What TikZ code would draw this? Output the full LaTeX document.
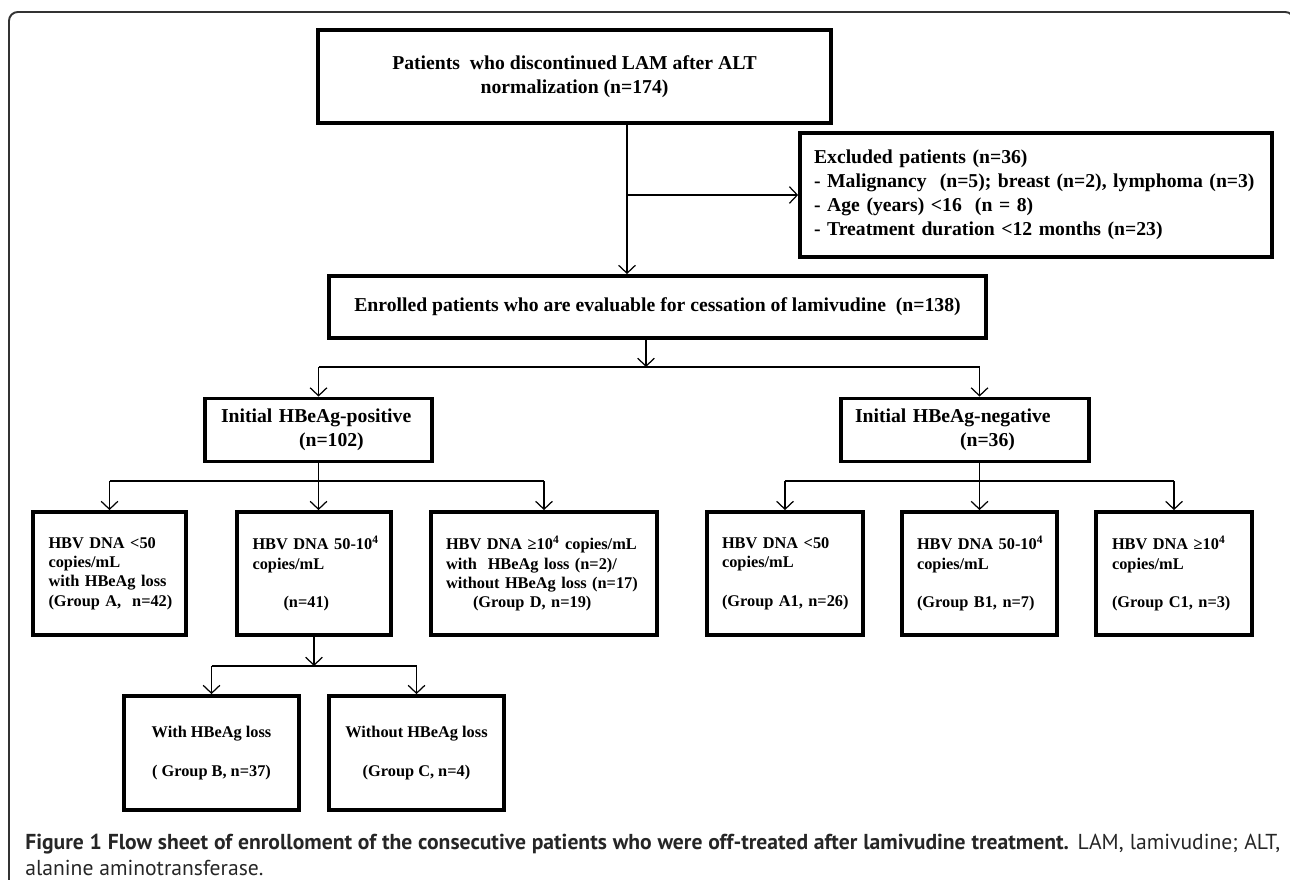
\documentclass[tikz,border=0pt]{standalone}
\usepackage{fontspec}
\setmainfont{Liberation Serif}
\newfontfamily\capfont{PT Sans}
\usetikzlibrary{arrows.meta}

\tikzset{
  box/.style={draw, line width=2.2pt, inner sep=0pt, font=\bfseries\fontsize{11.2}{13.6}\selectfont},
  subbox/.style={box, font=\bfseries\fontsize{9.3}{11}\selectfont},
  arr/.style={-{Straight Barb[length=4.5pt,width=9.5pt]}, line width=0.7pt},
  link/.style={line width=0.7pt},
}

\begin{document}
\begin{tikzpicture}[x=0.02cm, y=-0.02cm]
  \useasboundingbox (0,0) rectangle (1290,879);
  % outer frame
  \draw[line width=1.1pt, draw=black!80, rounded corners=5pt] (9,900) -- (9,12) -- (1294,12) -- (1294,60);

  % screening
  \node[box, minimum width=10.26cm, minimum height=1.86cm, align=center] (start) at (574.5,76.5)
    {Patients~ who discontinued LAM after ALT\\normalization (n=174)};
  \node[box, minimum width=9.44cm, minimum height=2.48cm, text width=8.88cm, align=left] (excl) at (1036,195)
    {Excluded patients (n=36)\\- Malignancy~ (n=5); breast (n=2), lymphoma (n=3)\\- Age (years) <16~ (n = 8)\\- Treatment duration <12 months (n=23)};
  \node[box, minimum width=13.14cm, minimum height=1.24cm] (enrol) at (657.5,307)
    {Enrolled patients who are evaluable for cessation of lamivudine~ (n=138)};

  % HBeAg status
  \node[box, minimum width=4.54cm, minimum height=1.26cm, text width=3.9cm, align=left] (pos) at (318.5,430)
    {Initial HBeAg-positive\\\hspace*{1.56cm}(n=102)};
  \node[box, minimum width=4.96cm, minimum height=1.26cm, text width=4.4cm, align=left] (neg) at (965,430)
    {Initial HBeAg-negative\\\hspace*{2.1cm}(n=36)};

  % HBV DNA groups
  \node[subbox, minimum width=3.06cm, minimum height=2.46cm, text width=2.44cm, align=left] (grpA) at (109.5,573.5)
    {\mbox{HBV DNA <50}\\copies/mL\\\mbox{with HBeAg loss}\\\mbox{(Group A,~ n=42)}};
  \node[subbox, minimum width=3.08cm, minimum height=2.46cm, text width=2.46cm, align=left] (grpBC) at (314,573.5)
    {\mbox{HBV DNA 50-10\textsuperscript{4}}\\copies/mL\\[11pt]\hspace*{0.62cm}(n=41)};
  \node[subbox, minimum width=4.52cm, minimum height=2.46cm, text width=3.92cm, align=left] (grpD) at (544,573.5)
    {\mbox{HBV DNA ≥10\textsuperscript{4} copies/mL}\\\mbox{with~ HBeAg loss (n=2)/}\\\mbox{without HBeAg loss (n=17)}\\\hspace*{0.54cm}(Group D, n=19)};
  \node[subbox, minimum width=3.12cm, minimum height=2.46cm, text width=2.52cm, align=left] (grpA1) at (785,573.5)
    {\mbox{HBV DNA <50}\\copies/mL\\[11pt]\mbox{(Group A1, n=26)}};
  \node[subbox, minimum width=3.10cm, minimum height=2.46cm, text width=2.5cm, align=left] (grpB1) at (979.5,573.5)
    {\mbox{HBV DNA 50-10\textsuperscript{4}}\\copies/mL\\[11pt]\mbox{(Group B1, n=7)}};
  \node[subbox, minimum width=3.12cm, minimum height=2.46cm, text width=2.48cm, align=left] (grpC1) at (1174,573.5)
    {\mbox{HBV DNA ≥10\textsuperscript{4}}\\copies/mL\\[11pt]\mbox{(Group C1, n=3)}};

  % split of group 50-10^4
  \node[subbox, minimum width=3.5cm, minimum height=2.28cm, align=center] (grpB) at (211.5,753)
    {With HBeAg loss\\[11pt]( Group B, n=37)};
  \node[subbox, minimum width=3.5cm, minimum height=2.28cm, align=center] (grpC) at (416.5,753)
    {Without HBeAg loss\\[11pt](Group C, n=4)};

  % connectors
  \coordinate (trunk) at (627,195);
  \coordinate (split) at (646,367);
  \coordinate (lvl2) at (0,481);
  \coordinate (lvl3) at (0,666);
  \draw[arr] (trunk |- start.south) -- (trunk |- enrol.north);
  \draw[arr] (trunk) -- (trunk -| excl.west);
  \draw[arr] (split |- enrol.south) -- (split);
  \draw[link] (pos.north |- split) -- (grpB1.north |- split);
  \draw[arr] (pos.north |- split) -- (pos.north);
  \draw[arr] (grpB1.north |- split) -- (grpB1.north |- neg.north);

  \draw[link] (grpA.north |- lvl2) -- (grpD.north |- lvl2);
  \draw[arr] (grpA.north |- lvl2) -- (grpA.north);
  \draw[arr] (pos.south) -- (pos.south |- grpBC.north);
  \draw[arr] (grpD.north |- lvl2) -- (grpD.north);

  \draw[link] (grpA1.north |- lvl2) -- (grpC1.north |- lvl2);
  \draw[arr] (grpA1.north |- lvl2) -- (grpA1.north);
  \draw[arr] (grpB1.north |- neg.south) -- (grpB1.north);
  \draw[arr] (grpC1.north |- lvl2) -- (grpC1.north);

  \draw[arr] (grpBC.south) -- (grpBC.south |- lvl3);
  \draw[link] (grpB.north |- lvl3) -- (grpC.north |- lvl3);
  \draw[arr] (grpB.north |- lvl3) -- (grpB.north);
  \draw[arr] (grpC.north |- lvl3) -- (grpC.north);

  % caption
  \node[anchor=west, inner sep=0pt, font=\capfont\fontsize{12.3}{14}\selectfont, text=black!85] (capA) at (25,844)
    {\makebox[25.1cm][s]{\textbf{Figure 1 Flow sheet of enrolloment of the consecutive patients who were off-treated after lamivudine treatment.} LAM, lamivudine; ALT,}};
  \node[anchor=west, inner sep=0pt, font=\capfont\fontsize{12.3}{14}\selectfont, text=black!85] (capB) at (25,868)
    {alanine aminotransferase.};
\end{tikzpicture}
\end{document}
